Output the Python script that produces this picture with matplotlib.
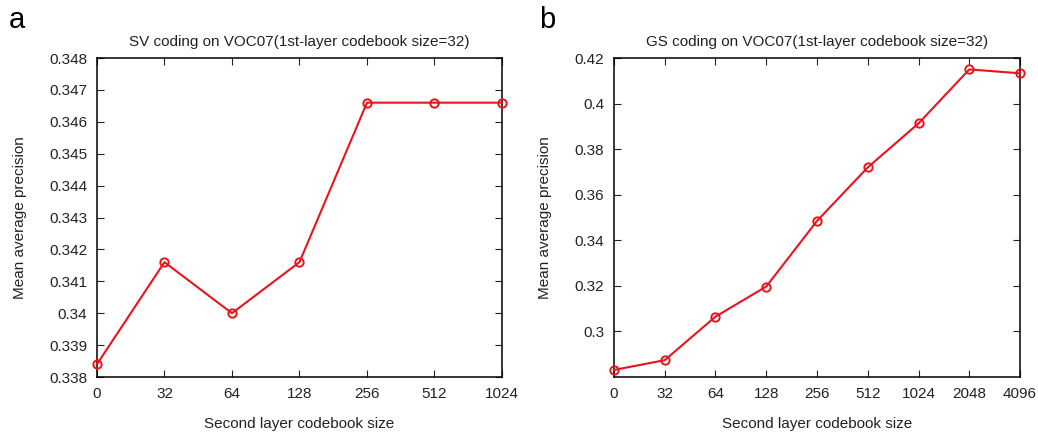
import matplotlib.pyplot as plt
import numpy as np

plt.rcParams['font.family'] = ['Liberation Sans', 'DejaVu Sans']

# second-layer codebook sizes and mAP values
sv_sizes = ['0', '32', '64', '128', '256', '512', '1024']
sv_map = [0.3384, 0.3416, 0.3400, 0.3416, 0.3466, 0.3466, 0.3466]

gs_sizes = ['0', '32', '64', '128', '256', '512', '1024', '2048', '4096']
gs_map = [0.2831, 0.2874, 0.3065, 0.3197, 0.3485, 0.3720, 0.3913, 0.4150, 0.4133]

fig = plt.figure(figsize=(10.38, 4.33), dpi=100)
ax1 = fig.add_axes([0.0934, 0.1293, 0.3902, 0.7367])
ax2 = fig.add_axes([0.5915, 0.1293, 0.3912, 0.7367])


def draw(ax, sizes, vals, title):
    x = np.arange(len(sizes))
    ax.plot(x, vals, color='#e8141c', lw=1.5, marker='o', ms=6,
            mfc='none', mec='#e8141c', mew=1.4, clip_on=False, zorder=3)
    ax.set_xlim(0, len(sizes) - 1)
    ax.set_xticks(x)
    ax.set_xticklabels(sizes)
    ax.tick_params(direction='in', top=True, right=True, length=5,
                   labelsize=11, colors='#222222', pad=7)
    for s in ax.spines.values():
        s.set_linewidth(1.1)
    ax.set_title(title, fontsize=11, pad=9, color='#222222')
    ax.set_xlabel('Second layer codebook size', fontsize=11, labelpad=12,
                  color='#222222')
    ax.set_ylabel('Mean average precision', fontsize=11, labelpad=16,
                  color='#222222')


draw(ax1, sv_sizes, sv_map, 'SV coding on VOC07(1st-layer codebook size=32)')
ax1.set_ylim(0.338, 0.348)
ax1.set_yticks(np.arange(0.338, 0.3481, 0.001))
ax1.set_yticklabels(['0.338', '0.339', '0.34', '0.341', '0.342', '0.343',
                     '0.344', '0.345', '0.346', '0.347', '0.348'])

draw(ax2, gs_sizes, gs_map, 'GS coding on VOC07(1st-layer codebook size=32)')
ax2.set_ylim(0.28, 0.42)
ax2.set_yticks([0.3, 0.32, 0.34, 0.36, 0.38, 0.4, 0.42])
ax2.set_yticklabels(['0.3', '0.32', '0.34', '0.36', '0.38', '0.4', '0.42'])

# panel letters
fig.text(0.008, 0.935, 'a', fontsize=21)
fig.text(0.519, 0.935, 'b', fontsize=21)

fig.savefig('out.png', dpi=100)
